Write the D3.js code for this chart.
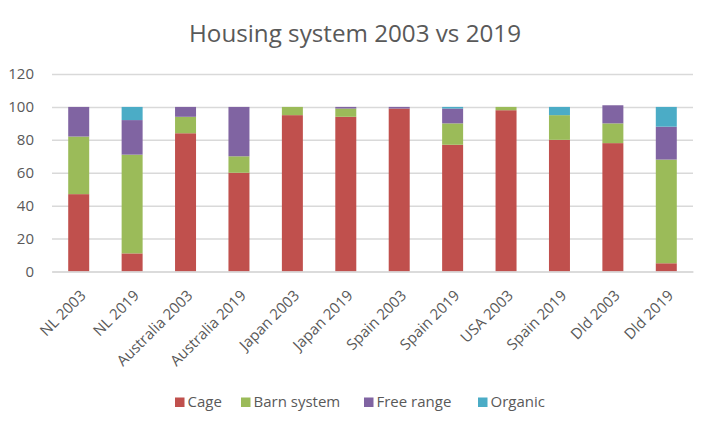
<!DOCTYPE html>
<html><head><meta charset="utf-8">
<script src="https://cdn.jsdelivr.net/npm/d3@7"></script>
<style>body{margin:0;background:#fff}svg{display:block}text{font-family:"Open Sans",sans-serif}</style>
</head><body><svg id="c" width="711" height="430"></svg>
<script>
const categories = ["NL 2003","NL 2019","Australia 2003","Australia 2019","Japan 2003","Japan 2019","Spain 2003","Spain 2019","USA 2003","Spain 2019","Dld 2003","Dld 2019"];
const seriesNames = ["Cage","Barn system","Free range","Organic"];
const cage      = [47, 11, 84, 60, 95, 94, 99, 77, 98, 80, 78, 5];
const barn      = [35, 60, 10, 10,  5,  5,  0, 13,  2, 15, 12, 63];
const freeRange = [18, 21,  6, 30,  0,  1,  1,  9,  0,  0, 11, 20];
const organic   = [ 0,  8,  0,  0,  0,  0,  0,  1,  0,  5,  0, 12];
const yTicks = [0,20,40,60,80,100,120];
const colors = ["#c0504d","#9bbb59","#8064a2","#4bacc6"];

const svg = d3.select("#c");
const m = {l:52, r:18, t:74, b:158.5};
const W = 711, H = 430;
const x = d3.scaleBand().domain(d3.range(categories.length)).range([m.l, W-m.r]).paddingInner(0.607).paddingOuter(0.3035);
const y = d3.scaleLinear().domain([0,120]).range([H-m.b, m.t]);

const title = svg.append("text").attr("x",355).attr("y",42).attr("text-anchor","middle")
  .attr("font-size",24).attr("fill","#595959").text("Housing system 2003 vs 2019");
const tw = title.node().getComputedTextLength();
title.attr("font-size", 24*332/tw);

const yAxis = svg.append("g").attr("transform",`translate(${m.l},0)`)
  .call(d3.axisLeft(y).tickValues(yTicks).tickSize(-(W-m.l-m.r)).tickPadding(18));
yAxis.select(".domain").remove();
yAxis.selectAll("line").attr("stroke","#d9d9d9").attr("stroke-width",1.5);
yAxis.selectAll("text").attr("fill","#595959").attr("font-size",15);

const rows = categories.map((c,i)=>({i, Cage:cage[i], "Barn system":barn[i], "Free range":freeRange[i], Organic:organic[i]}));
const stack = d3.stack().keys(seriesNames)(rows);
svg.append("g").selectAll("g").data(stack).join("g").attr("fill",(d,k)=>colors[k])
  .selectAll("rect").data(d=>d).join("rect")
  .attr("x",d=>x(d.data.i)).attr("width",x.bandwidth())
  .attr("y",d=>y(d[1])).attr("height",d=>y(d[0])-y(d[1]));

const xAxis = svg.append("g").attr("transform",`translate(0,${H-m.b})`)
  .call(d3.axisBottom(x).tickSize(0).tickFormat(i=>categories[i]));
xAxis.select(".domain").attr("stroke","#d9d9d9").attr("stroke-width",1.5);
xAxis.selectAll("text").attr("fill","#595959").attr("font-size",15)
  .attr("text-anchor","end").attr("dy",null).attr("y",0)
  .attr("transform","translate(8,25) rotate(-45)");

const legendX = [175, 241, 364, 478];
const lg = svg.append("g").selectAll("g").data(seriesNames).join("g")
  .attr("transform",(d,k)=>`translate(${legendX[k]},407)`);
lg.append("rect").attr("x",0).attr("y",-9.5).attr("width",9.5).attr("height",9.5).attr("fill",(d,k)=>colors[k]);
lg.append("text").attr("x",12.5).attr("y",0).attr("font-size",15).attr("fill","#595959").text(d=>d);
</script></body></html>
